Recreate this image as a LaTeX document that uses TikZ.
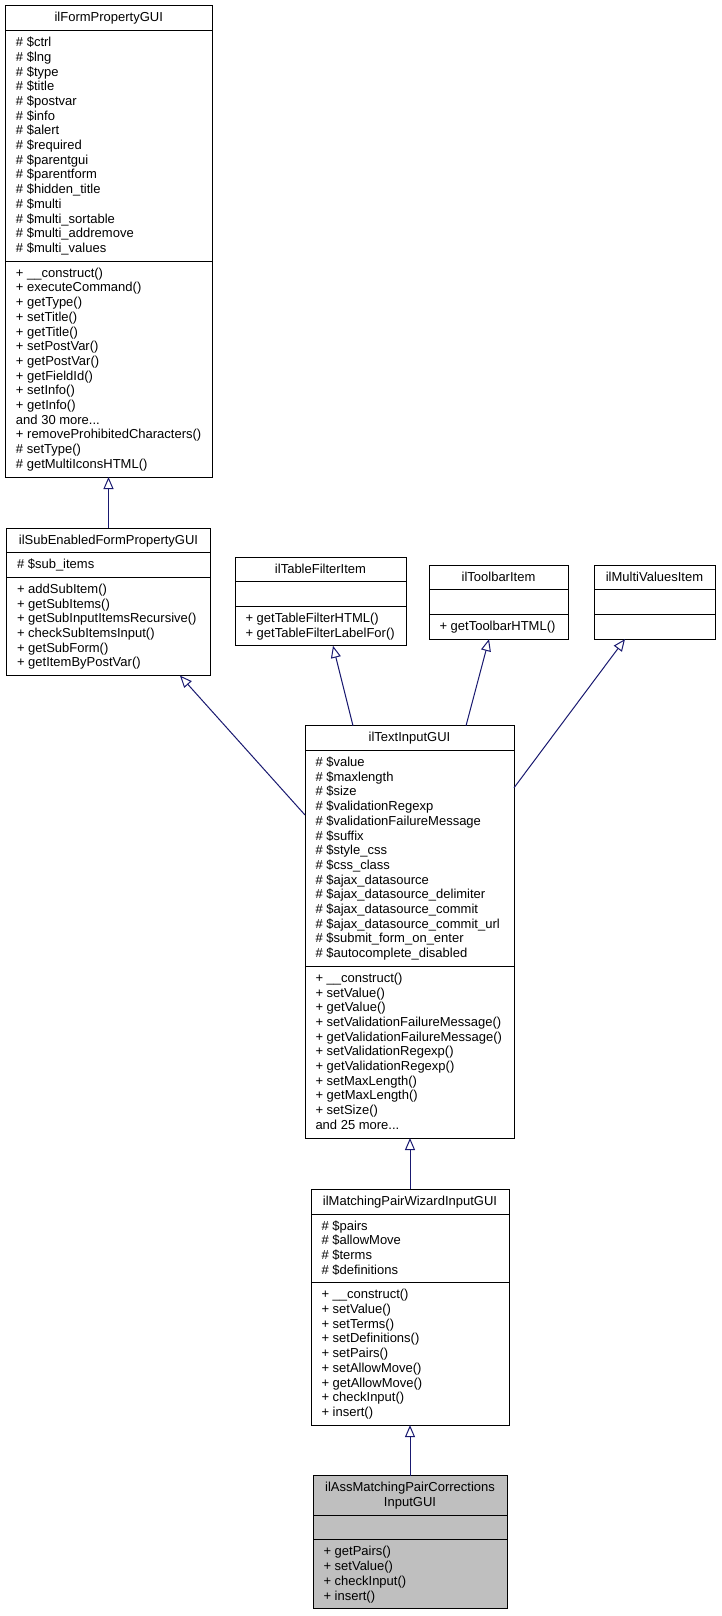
\documentclass[tikz,border=0pt]{standalone}
\usepackage{fontspec}
\usetikzlibrary{arrows.meta}
\newfontfamily\umlfam{Liberation Sans}
\newcommand\umlfont{\umlfam\fontsize{13}{14.7}\selectfont}
\newcommand\mlines[1]{\begin{tabular}[t]{@{}l@{}}#1\end{tabular}}
\newcommand\clines[1]{\begin{tabular}[t]{@{}c@{}}#1\end{tabular}}
\definecolor{edgeblue}{HTML}{191970}
\definecolor{selfill}{HTML}{BFBFBF}
\tikzset{
  cls/.style={draw=black, line width=1pt, inner sep=0pt, outer sep=0pt, anchor=north west},
  sepline/.style={draw=black, line width=1pt},
  txt/.style={inner sep=0pt, outer sep=0pt, anchor=base west, font=\umlfont},
  ttl/.style={inner sep=0pt, outer sep=0pt, anchor=base, font=\umlfont},
  inh/.style={draw=edgeblue, line width=1pt, -{Triangle[open, length=12pt, width=10pt]}},
}
\begin{document}
\begin{tikzpicture}[x=1pt, y=-1pt]
\useasboundingbox[fill=white] (0,0) rectangle (721,1616);

% ilFormPropertyGUI
\node[cls, minimum width=206.5pt, minimum height=471pt] (b1) at (5.5,6) {};
\draw[sepline] (5.5,30.7) -- (212,30.7);
\draw[sepline] (5.5,261.2) -- (212,261.2);
\node[ttl] (b1t) at (108.75,22) {ilFormPropertyGUI};
\node[txt] (b1a) at (16,46.7) {\mlines{\# \$ctrl\\\# \$lng\\\# \$type\\\# \$title\\\# \$postvar\\\# \$info\\\# \$alert\\\# \$required\\\# \$parentgui\\\# \$parentform\\\# \$hidden\_title\\\# \$multi\\\# \$multi\_sortable\\\# \$multi\_addremove\\\# \$multi\_values}};
\node[txt] (b1m) at (16,277.2) {\mlines{+ \_\_construct()\\+ executeCommand()\\+ getType()\\+ setTitle()\\+ getTitle()\\+ setPostVar()\\+ getPostVar()\\+ getFieldId()\\+ setInfo()\\+ getInfo()\\and 30 more...\\+ removeProhibitedCharacters()\\\# setType()\\\# getMultiIconsHTML()}};

% ilSubEnabledFormPropertyGUI
\node[cls, minimum width=204pt, minimum height=147.6pt] (b2) at (6.5,528) {};
\draw[sepline] (6.5,552.7) -- (210.5,552.7);
\draw[sepline] (6.5,577.4) -- (210.5,577.4);
\node[ttl] (b2t) at (108.5,544) {ilSubEnabledFormPropertyGUI};
\node[txt] (b2a) at (17,568.7) {\mlines{\# \$sub\_items}};
\node[txt] (b2m) at (17,593.4) {\mlines{+ addSubItem()\\+ getSubItems()\\+ getSubInputItemsRecursive()\\+ checkSubItemsInput()\\+ getSubForm()\\+ getItemByPostVar()}};

% ilTableFilterItem
\node[cls, minimum width=171pt, minimum height=88.8pt] (tf) at (235,557) {};
\draw[sepline] (235,581.7) -- (406,581.7);
\draw[sepline] (235,606.4) -- (406,606.4);
\node[ttl] (tft) at (320.5,573) {ilTableFilterItem};
\node[txt] (tfm) at (245.5,622.4) {\mlines{+ getTableFilterHTML()\\+ getTableFilterLabelFor()}};

% ilToolbarItem
\node[cls, minimum width=139pt, minimum height=74.1pt] (tb) at (429,565) {};
\draw[sepline] (429,589.7) -- (568,589.7);
\draw[sepline] (429,614.4) -- (568,614.4);
\node[ttl] (tbt) at (498.5,581) {ilToolbarItem};
\node[txt] (tbm) at (439.5,630.4) {\mlines{+ getToolbarHTML()}};

% ilMultiValuesItem
\node[cls, minimum width=121pt, minimum height=74.1pt] (mv) at (594,565) {};
\draw[sepline] (594,589.7) -- (715,589.7);
\draw[sepline] (594,614.4) -- (715,614.4);
\node[ttl] (mvt) at (654.5,581) {ilMultiValuesItem};

% ilTextInputGUI
\node[cls, minimum width=209pt, minimum height=412.2pt] (ti) at (305,725.8) {};
\draw[sepline] (305,750.5) -- (514,750.5);
\draw[sepline] (305,966.3) -- (514,966.3);
\node[ttl] (tit) at (409.5,741.8) {ilTextInputGUI};
\node[txt] (tia) at (315.5,766.5) {\mlines{\# \$value\\\# \$maxlength\\\# \$size\\\# \$validationRegexp\\\# \$validationFailureMessage\\\# \$suffix\\\# \$style\_css\\\# \$css\_class\\\# \$ajax\_datasource\\\# \$ajax\_datasource\_delimiter\\\# \$ajax\_datasource\_commit\\\# \$ajax\_datasource\_commit\_url\\\# \$submit\_form\_on\_enter\\\# \$autocomplete\_disabled}};
\node[txt] (tim) at (315.5,982.3) {\mlines{+ \_\_construct()\\+ setValue()\\+ getValue()\\+ setValidationFailureMessage()\\+ getValidationFailureMessage()\\+ setValidationRegexp()\\+ getValidationRegexp()\\+ setMaxLength()\\+ getMaxLength()\\+ setSize()\\and 25 more...}};

% ilMatchingPairWizardInputGUI
\node[cls, minimum width=198pt, minimum height=235.8pt] (mp) at (311,1189.3) {};
\draw[sepline] (311,1214) -- (509,1214);
\draw[sepline] (311,1282.8) -- (509,1282.8);
\node[ttl] (mpt) at (410,1205.3) {ilMatchingPairWizardInputGUI};
\node[txt] (mpa) at (321.5,1230) {\mlines{\# \$pairs\\\# \$allowMove\\\# \$terms\\\# \$definitions}};
\node[txt] (mpm) at (321.5,1298.8) {\mlines{+ \_\_construct()\\+ setValue()\\+ setTerms()\\+ setDefinitions()\\+ setPairs()\\+ setAllowMove()\\+ getAllowMove()\\+ checkInput()\\+ insert()}};

% ilAssMatchingPairCorrectionsInputGUI
\node[cls, fill=selfill, minimum width=194pt, minimum height=132.9pt] (as) at (313,1475.8) {};
\draw[sepline] (313,1515.2) -- (507,1515.2);
\draw[sepline] (313,1539.9) -- (507,1539.9);
\node[ttl] (ast) at (410,1491.8) {\clines{ilAssMatchingPairCorrections\\InputGUI}};
\node[txt] (asm) at (323.5,1555.9) {\mlines{+ getPairs()\\+ setValue()\\+ checkInput()\\+ insert()}};

% inheritance connectors
\draw[inh] (b2.north) -- (b2.north |- b1.south);
\draw[inh] ([yshift=-89.2pt]ti.north west) -- ([xshift=173.5pt]b2.south west);
\draw[inh] ([xshift=48pt]ti.north west) -- ([xshift=98pt]tf.south west);
\draw[inh] ([xshift=161pt]ti.north west) -- ([xshift=60pt]tb.south west);
\draw[inh] ([yshift=-62pt]ti.north east) -- ([xshift=31pt]mv.south west);
\draw[inh] (mp.north) -- (mp.north |- ti.south);
\draw[inh] (as.north) -- (as.north |- mp.south);
\end{tikzpicture}
\end{document}
